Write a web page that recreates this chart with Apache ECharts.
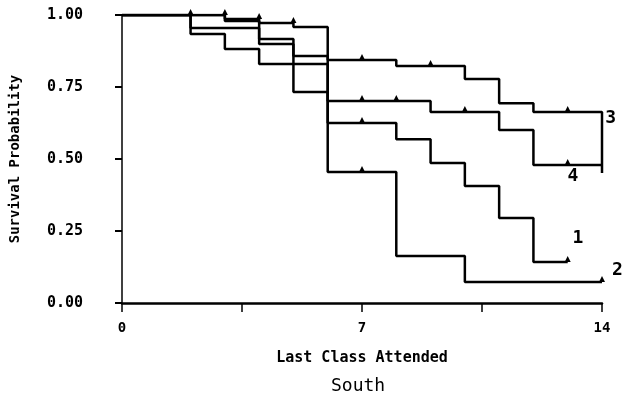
<!DOCTYPE html>
<html>
<head>
<meta charset="utf-8">
<script src="https://cdn.jsdelivr.net/npm/echarts@6/dist/echarts.min.js"></script>
<style>
  html, body { margin: 0; padding: 0; background: #fff; }
  #chart { width: 623px; height: 404px; }
</style>
</head>
<body>
<div id="chart"></div>
<script>
// step curves: value holds from time[i] until time[i+1]
const times1 = [0, 2, 4, 5, 6, 8, 9, 10, 11, 12, 13];
const surv1 = [1.0, 0.955, 0.899, 0.830, 0.625, 0.569, 0.486, 0.406, 0.295, 0.142, 0.142];
const times2 = [0, 2, 3, 4, 5, 6, 8, 10, 14];
const surv2 = [1.0, 0.934, 0.882, 0.830, 0.733, 0.455, 0.163, 0.073, 0.073];
const times3 = [0, 3, 4, 5, 6, 8, 10, 11, 12, 14];
const surv3 = [1.0, 0.986, 0.972, 0.958, 0.844, 0.823, 0.778, 0.694, 0.663, 0.479];
const times4 = [0, 3, 4, 5, 6, 9, 11, 12, 14];
const surv4 = [1.0, 0.979, 0.917, 0.858, 0.701, 0.663, 0.601, 0.479, 0.451];

// censoring marks
const cens1 = [[7, 0.625], [13, 0.142]];
const cens2 = [[7, 0.455], [14, 0.073]];
const cens3 = [[2, 1.0], [3, 1.0], [4, 0.986], [5, 0.972], [7, 0.844], [9, 0.823], [13, 0.663]];
const cens4 = [[7, 0.701], [8, 0.701], [10, 0.663], [13, 0.479]];

// curve labels (group numbers)
const groupLabels = [[13.3, 0.226, '1'], [14.45, 0.115, '2'], [14.25, 0.642, '3'], [13.15, 0.44, '4']];

const xTickLabels = { 0: '0', 7: '7', 14: '14' };
const yTicks = [0, 0.25, 0.5, 0.75, 1.0];

const mono = 'DejaVu Sans Mono';

const chart = echarts.init(document.getElementById('chart'));

function stepSeries(times, surv) {
  return {
    type: 'line',
    step: 'end',
    data: times.map((t, i) => [t, surv[i]]),
    symbol: 'none',
    lineStyle: { color: '#000', width: 2.5 },
    animation: false
  };
}

function censSeries(pts) {
  return {
    type: 'scatter',
    data: pts,
    symbol: 'triangle',
    symbolSize: 6,
    symbolOffset: [0, -3],
    itemStyle: { color: '#000', opacity: 1 },
    animation: false
  };
}

const option = {
  backgroundColor: '#fff',
  grid: { left: 118, right: 21, top: 15, bottom: 101, containLabel: false },
  xAxis: [
    {
      type: 'value', min: 0, max: 14, interval: 3.5,
      axisLine: { show: true, lineStyle: { color: '#000', width: 2.5 } },
      axisTick: { show: false }, axisLabel: { show: false }, splitLine: { show: false },
      name: 'Last Class Attended', nameLocation: 'middle', nameGap: 48,
      nameTextStyle: { fontFamily: mono, fontWeight: 'bold', fontSize: 15, color: '#000' }
    },
    {
      type: 'value', min: 0, max: 14, interval: 3.5, position: 'bottom', offset: 15,
      axisLine: { show: false },
      axisTick: { show: true, length: 9, lineStyle: { color: '#000', width: 1.5 } },
      axisLabel: {
        margin: 3, fontFamily: mono, fontWeight: 'bold', fontSize: 14, color: '#000',
        formatter: v => xTickLabels[v] || ''
      },
      splitLine: { show: false }
    }
  ],
  yAxis: [
    {
      type: 'value', min: 0, max: 1, interval: 0.25,
      axisLine: { show: true, lineStyle: { color: '#000', width: 1.5 } },
      axisTick: { show: false }, axisLabel: { show: false }, splitLine: { show: false },
      name: 'Survival Probability', nameLocation: 'middle', nameGap: 100,
      nameTextStyle: { fontFamily: mono, fontWeight: 'bold', fontSize: 14, color: '#000' }
    },
    {
      type: 'value', min: 0, max: 1, interval: 0.25, position: 'left', offset: 8,
      axisLine: { show: false },
      axisTick: { show: true, length: 7, lineStyle: { color: '#000', width: 2 } },
      axisLabel: {
        margin: 31, fontFamily: mono, fontWeight: 'bold', fontSize: 15, color: '#000',
        formatter: v => yTicks.includes(v) ? v.toFixed(2) : ''
      },
      splitLine: { show: false }
    }
  ],
  graphic: [
    {
      type: 'text', left: 331, top: 377,
      style: { text: 'South', font: '18px "DejaVu Sans Mono"', fill: '#000' }
    }
  ],
  series: [
    stepSeries(times1, surv1),
    stepSeries(times2, surv2),
    stepSeries(times3, surv3),
    stepSeries(times4, surv4),
    censSeries(cens1),
    censSeries(cens2),
    censSeries(cens3),
    censSeries(cens4),
    {
      type: 'scatter',
      data: groupLabels,
      symbolSize: 0,
      clip: false,
      itemStyle: { opacity: 1 },
      label: {
        show: true, position: 'inside', formatter: p => p.data[2],
        fontFamily: mono, fontSize: 18, fontWeight: 'bold', color: '#000',
        textBorderWidth: 0, opacity: 1
      },
      animation: false
    }
  ]
};

chart.setOption(option);
</script>
</body>
</html>
